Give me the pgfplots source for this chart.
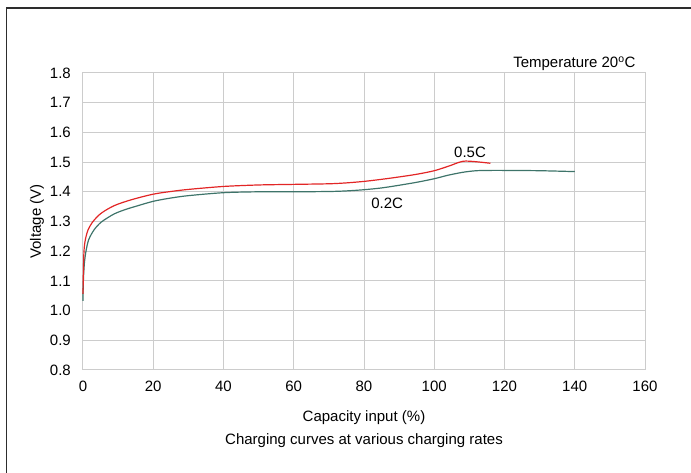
\documentclass[border=0pt]{standalone}
\usepackage{pgfplots}
\pgfplotsset{compat=1.18}
\usepackage{fontspec}
\setmainfont{Liberation Sans}
\definecolor{rate05}{RGB}{226,38,38}
\definecolor{rate02}{RGB}{62,116,106}
\definecolor{gridgray}{RGB}{204,204,204}
\definecolor{framegray}{RGB}{45,45,45}

\begin{document}
\fontsize{15}{17}\selectfont
\begin{tikzpicture}
  \useasboundingbox (-83pt,-103pt) rectangle (608pt,370pt);
  \begin{axis}[
      scale only axis,
      width=562pt,
      height=297pt,
      xmin=0, xmax=160,
      ymin=0.8, ymax=1.8,
      xtick={0,20,...,160},
      ytick={0.8,0.9,...,1.8},
      /pgf/number format/assume math mode=true,
      ticklabel style={font=\fontsize{15}{17}\selectfont},
      xticklabel style={anchor=center, yshift=-16.7pt},
      yticklabel style={/pgf/number format/fixed, /pgf/number format/fixed zerofill,
        /pgf/number format/precision=1, anchor=east, xshift=-7pt},
      label style={font=\fontsize{15}{17}\selectfont},
      grid=major,
      grid style={gridgray,line width=1pt},
      axis line style={gridgray,line width=1pt},
      tick style={draw=none},
      xlabel={Capacity input (\%)},
      ylabel={Voltage (V)},
      xlabel style={at={(axis description cs:0.5,-0.162)},anchor=center},
      ylabel style={at={(axis description cs:-0.0819,0.5)},anchor=center},
      clip=false,
    ]
    % 0.2C
    \addplot[rate02, line width=1.2pt, smooth, tension=0.5] coordinates {
      (0,1.033) (0.1,1.10) (0.4,1.16) (0.85,1.20) (1.6,1.238) (3.1,1.271)
      (5.2,1.298) (8.8,1.325) (12,1.340) (15,1.351) (20,1.368) (25,1.379)
      (30,1.387) (40,1.397) (50,1.400) (60,1.400) (70,1.401) (75,1.403)
      (80,1.407) (85,1.413) (90,1.422) (95,1.432) (100,1.444) (104,1.456)
      (108.3,1.466) (112,1.471) (116,1.472) (120,1.472) (130,1.471) (140,1.468)
    };
    % 0.5C
    \addplot[rate05, line width=1.2pt, smooth, tension=0.5] coordinates {
      (0,1.056) (0.1,1.12) (0.28,1.20) (0.66,1.238) (1.42,1.271) (2.85,1.300)
      (5.2,1.328) (9,1.354) (14,1.374) (20,1.392) (25,1.401)
      (30,1.408) (40,1.418) (50,1.423) (60,1.425) (70,1.427) (75,1.430)
      (80,1.435) (85,1.442) (90,1.450) (95,1.459) (100,1.471) (104.5,1.488)
      (106.5,1.497) (108.3,1.503) (110,1.503) (113,1.500) (116,1.496)
    };
    \node[anchor=center] at (axis cs:110.2,1.532) {0.5C};
    \node[anchor=center] at (axis cs:86.6,1.362) {0.2C};
    \node[anchor=base east, inner sep=0pt] at (axis cs:157.35,1.819) {Temperature 20\textsuperscript{o}C};
    \node[anchor=center] at (axis description cs:0.5,-0.239) {Charging curves at various charging rates};
  \end{axis}
  \draw[framegray, line width=1.3pt] (-76.5pt,-103pt) -- (-76.5pt,362pt) -- (608pt,362pt);
\end{tikzpicture}
\end{document}
